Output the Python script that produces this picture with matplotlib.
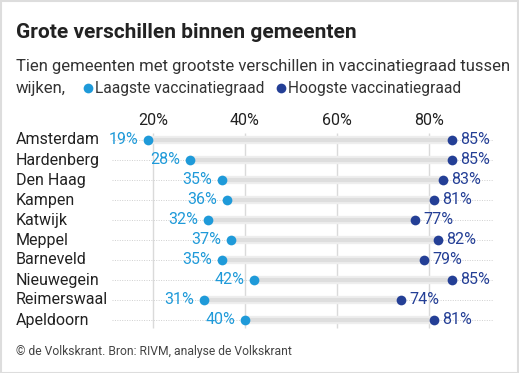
import matplotlib
matplotlib.use("Agg")
import matplotlib.pyplot as plt
from matplotlib.lines import Line2D
from matplotlib.patches import Rectangle

gemeenten = ["Amsterdam", "Hardenberg", "Den Haag", "Kampen", "Katwijk",
             "Meppel", "Barneveld", "Nieuwegein", "Reimerswaal", "Apeldoorn"]
laagste = [19, 28, 35, 36, 32, 37, 35, 42, 31, 40]
hoogste = [85, 85, 83, 81, 77, 82, 79, 85, 74, 81]
ticks = [20, 40, 60, 80]

licht = "#1f9ad9"
donker = "#243f96"
tekst = "#222222"

plt.rcParams["font.family"] = ["Roboto", "DejaVu Sans"]

W, H = 519, 373
fig = plt.figure(figsize=(W / 100, H / 100), dpi=100)

# axes in pixel terms: x 0% at px 61, 4.6 px per %
x0, ppu = 61, 4.6
xmin, xmax = 10, 95
left = x0 + xmin * ppu
right = x0 + xmax * ppu
top, bottom = 128, 330
ax = fig.add_axes([left / W, 1 - bottom / H, (right - left) / W, (bottom - top) / H])
ax.set_xlim(xmin, xmax)
ax.set_ylim(9.5, -0.6)
for s in ax.spines.values():
    s.set_visible(False)
ax.set_yticks([])

ax.xaxis.tick_top()
ax.set_xticks(ticks)
ax.set_xticklabels([f"{t}%" for t in ticks], fontsize=11.5, color=tekst)
ax.tick_params(axis="x", length=0, pad=0)

ax.vlines(ticks, -0.35, 9.4, color="#dadada", lw=1, zorder=0)

naam_x = (16 - left) / (right - left)
for i, (naam, lo, hi) in enumerate(zip(gemeenten, laagste, hoogste)):
    ax.plot([11.1, 93.9], [i, i], color="#cfcfcf", lw=0.7, ls=(0, (1, 1.5)), zorder=1)
    ax.plot([lo, hi], [i, i], color="#eeeeee", lw=6, solid_capstyle="butt", zorder=2)
    ax.plot([lo, hi], [i, i], color="#dedede", lw=3, solid_capstyle="butt", zorder=2)
    ax.plot(lo, i, "o", color=licht, ms=7, mec="none", zorder=3)
    ax.plot(hi, i, "o", color=donker, ms=7, mec="none", zorder=3)
    ax.annotate(f"{lo}%", (lo, i), xytext=(-7, 0), textcoords="offset points",
                ha="right", va="center", fontsize=11.5, color=licht)
    ax.annotate(f"{hi}%", (hi, i), xytext=(6, 0), textcoords="offset points",
                ha="left", va="center", fontsize=11.5, color=donker)
    ax.text(naam_x, i, naam, transform=ax.get_yaxis_transform(), ha="left",
            va="center", fontsize=11.5, color=tekst)

fig.text(16 / W, 1 - 33 / H, "Grote verschillen binnen gemeenten", fontsize=15,
         fontweight="bold", color=tekst, va="center", ha="left")
fig.text(16 / W, 1 - 67 / H,
         "Tien gemeenten met grootste verschillen in vaccinatiegraad tussen",
         fontsize=12, color="#333333", va="center", ha="left")
fig.text(16 / W, 1 - 88 / H, "wijken,", fontsize=12,
         color="#333333", va="center", ha="left")
fig.add_artist(Line2D([88 / W], [1 - 88 / H], marker="o", ms=7, color=licht,
                      mec="none", transform=fig.transFigure))
fig.text(95 / W, 1 - 88 / H, "Laagste vaccinatiegraad", fontsize=11.2,
         color="#333333", va="center", ha="left")
fig.add_artist(Line2D([281 / W], [1 - 88 / H], marker="o", ms=7, color=donker,
                      mec="none", transform=fig.transFigure))
fig.text(288 / W, 1 - 88 / H, "Hoogste vaccinatiegraad", fontsize=11.2,
         color="#333333", va="center", ha="left")
fig.text(16 / W, 1 - 351 / H, "© de Volkskrant. Bron: RIVM, analyse de Volkskrant",
         fontsize=8.7, color="#444444", va="center", ha="left")

fig.add_artist(Rectangle((0.5 / W, 0.5 / H), 1 - 1.5 / W, 1 - 1.5 / H,
                         transform=fig.transFigure, fill=False,
                         ec="#dddddd", lw=1.5))

fig.savefig("out.png", dpi=100)
